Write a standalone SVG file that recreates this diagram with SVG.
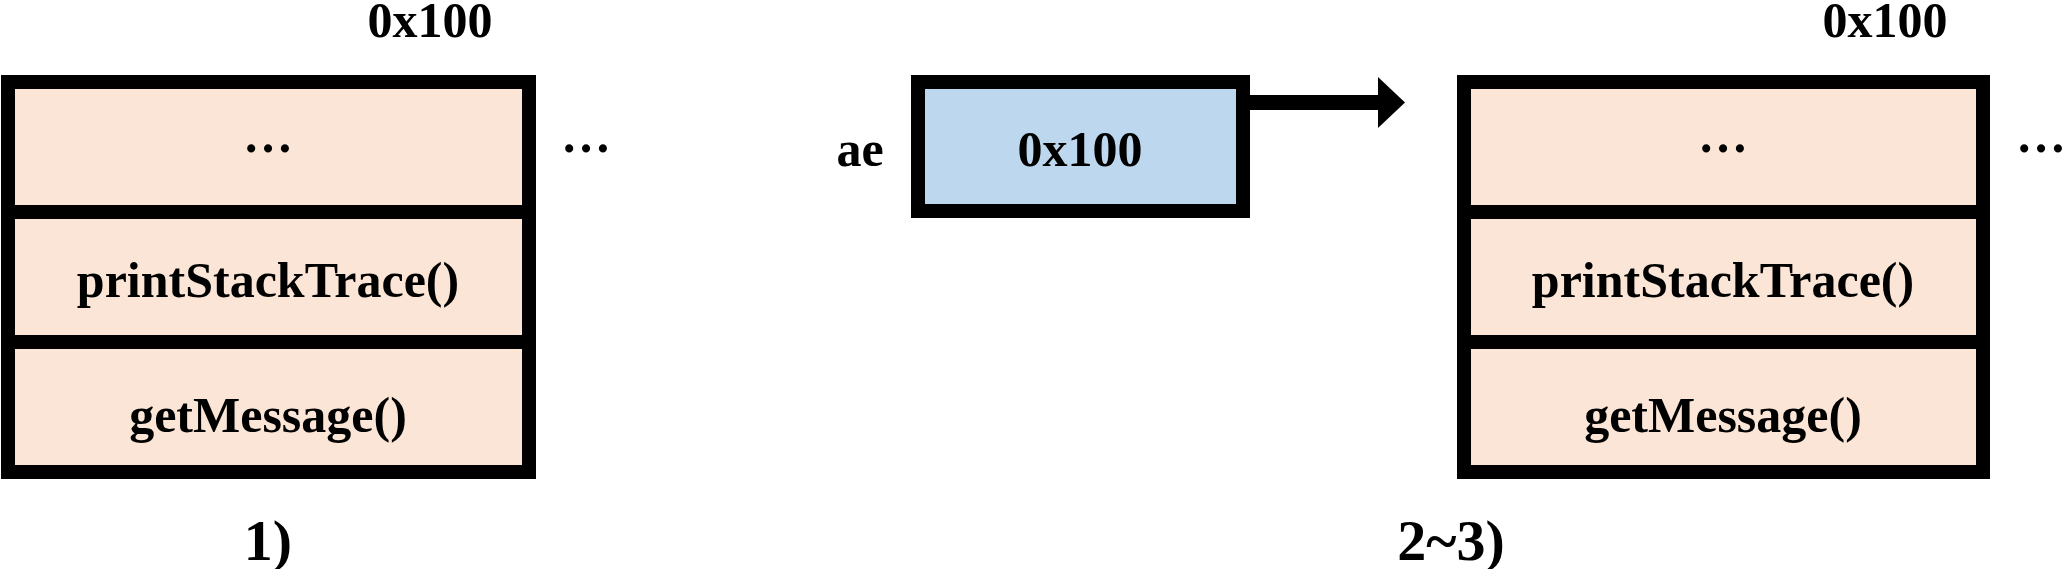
<svg xmlns="http://www.w3.org/2000/svg" width="2069" height="569" viewBox="0 0 2069 569">
<style>
.t{font-family:"Liberation Serif","Times New Roman",serif;font-weight:bold;font-size:50px;fill:#000;text-anchor:middle}
.big{font-size:58px}
.obj{fill:#FBE5D6;stroke:#000;stroke-width:14}
.ref{fill:#BDD7EE;stroke:#000;stroke-width:14}
.div{stroke:#000;stroke-width:14}
</style>
<rect width="2069" height="569" fill="#fff"/>
<g id="obj1">
<rect class="obj" x="8" y="82" width="521" height="390"/>
<line class="div" x1="1" y1="212" x2="536" y2="212"/>
<line class="div" x1="1" y1="342" x2="536" y2="342"/>
<text class="t" x="430" y="37">0x100</text>
<text class="t" x="268" y="152">…</text>
<text class="t" x="268" y="297">printStackTrace()</text>
<text class="t" x="268" y="432">getMessage()</text>
<text class="t" x="586" y="152">…</text>
<text class="t big" x="268" y="560">1)</text>
</g>
<g id="ae">
<text class="t" x="860" y="166">ae</text>
<rect class="ref" x="918" y="82" width="325" height="129"/>
<text class="t" x="1080" y="166">0x100</text>
</g>
<g id="obj2">
<rect class="obj" x="1464" y="82" width="519" height="390"/>
<line class="div" x1="1457" y1="212" x2="1990" y2="212"/>
<line class="div" x1="1457" y1="342" x2="1990" y2="342"/>
<text class="t" x="1885" y="37">0x100</text>
<text class="t" x="1723" y="152">…</text>
<text class="t" x="1723" y="297">printStackTrace()</text>
<text class="t" x="1723" y="432">getMessage()</text>
<text class="t" x="2041" y="152">…</text>
<text class="t big" x="1451" y="560">2~3)</text>
</g>
<g id="connectors">
<line x1="1250" y1="102.5" x2="1380" y2="102.5" stroke="#000" stroke-width="15"/>
<polygon points="1378,77 1405,102.5 1378,128" fill="#000"/>
</g>
</svg>
